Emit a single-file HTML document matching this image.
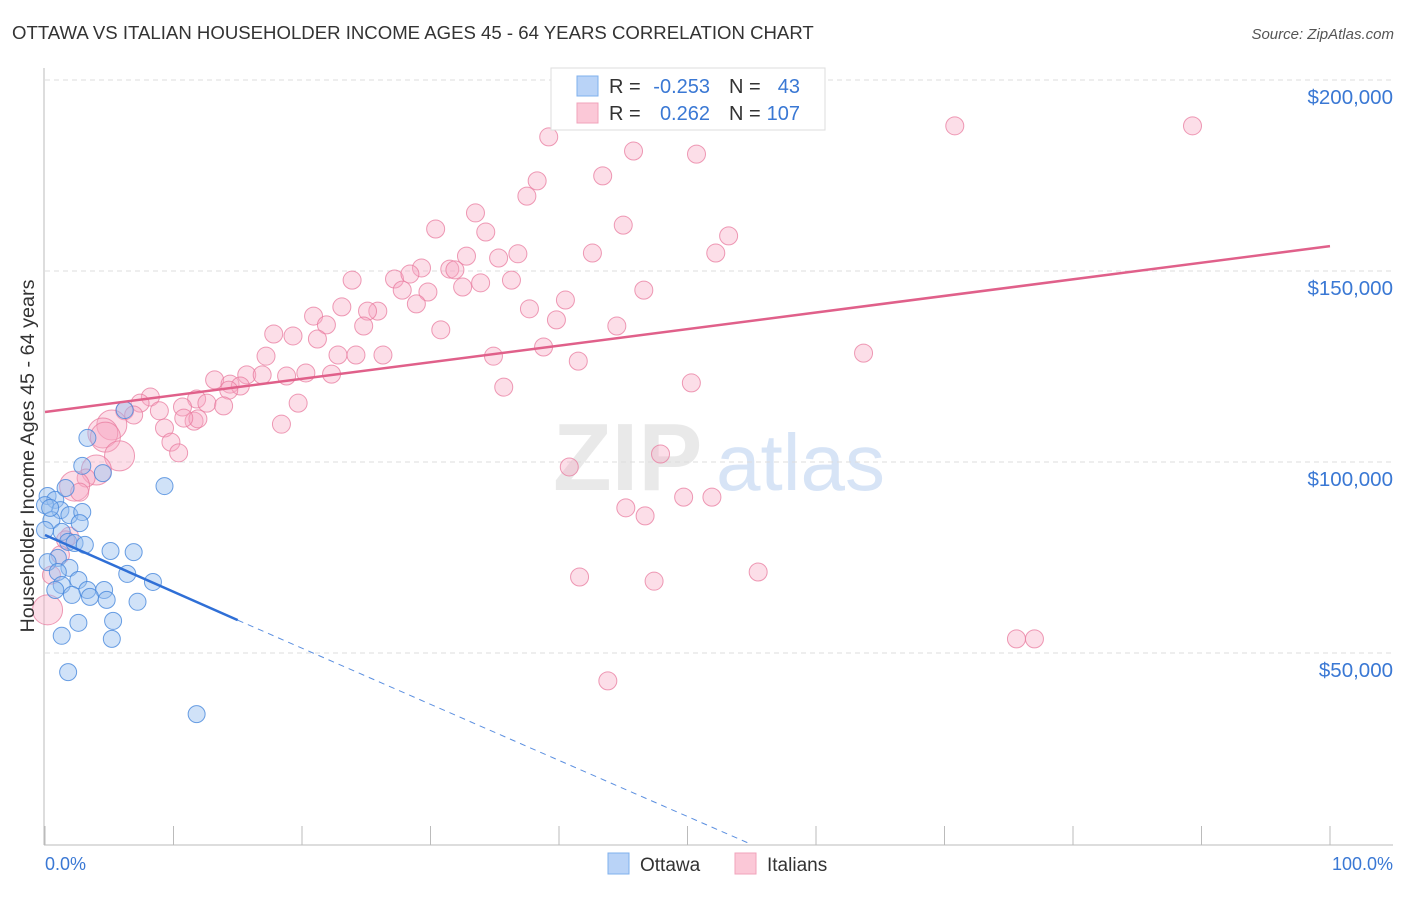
<!DOCTYPE html>
<html><head><meta charset="utf-8"><style>
body{margin:0;background:#fff;font-family:"Liberation Sans",sans-serif;}
svg text{font-family:"Liberation Sans",sans-serif;}
</style></head><body>
<svg id="chart" width="1406" height="892" xmlns="http://www.w3.org/2000/svg">
<text x="12" y="39" font-size="18.6" fill="#333">OTTAWA VS ITALIAN HOUSEHOLDER INCOME AGES 45 - 64 YEARS CORRELATION CHART</text>
<text x="1394" y="39" font-size="15" fill="#555" text-anchor="end" font-style="italic">Source: ZipAtlas.com</text>
<g opacity="0.55">
<text x="553" y="490" font-size="96" font-weight="bold" fill="#d8d8d8" font-family="Liberation Serif">ZIP</text>
<text x="716" y="490" font-size="80" fill="#b8cff0">atlas</text>
</g>
<g id="grid"></g><g id="axes"></g><g id="pts"></g><g id="lines"></g>
<text transform="translate(34,456) rotate(-90)" font-size="19.8" fill="#333" text-anchor="middle">Householder Income Ages 45 - 64 years</text>
<g>
<rect x="551" y="68" width="274" height="62" fill="#fff" stroke="#ddd"/>
<rect x="577" y="76" width="21" height="20" fill="#b9d3f7" stroke="#7fb0ee"/>
<rect x="577" y="103" width="21" height="20" fill="#fbc8d7" stroke="#f0a3bb"/>
<text x="609" y="93" font-size="20" fill="#333">R =</text><text x="710" y="93" font-size="20" fill="#3a78d4" text-anchor="end">-0.253</text>
<text x="729" y="93" font-size="20" fill="#333">N =</text><text x="800" y="93" font-size="20" fill="#3a78d4" text-anchor="end">43</text>
<text x="609" y="120" font-size="20" fill="#333">R =</text><text x="710" y="120" font-size="20" fill="#3a78d4" text-anchor="end">0.262</text>
<text x="729" y="120" font-size="20" fill="#333">N =</text><text x="800" y="120" font-size="20" fill="#3a78d4" text-anchor="end">107</text>
</g>
<g>
<rect x="608" y="853" width="21" height="21" fill="#b9d3f7" stroke="#7fb0ee"/>
<text x="640" y="871" font-size="19" fill="#333">Ottawa</text>
<rect x="735" y="853" width="21" height="21" fill="#fbc8d7" stroke="#f0a3bb"/>
<text x="767" y="871" font-size="19" fill="#333">Italians</text>
</g>
</svg>
<script>
const yTicks=[50,100,150,200];
const yTickLabels=["$50,000","$100,000","$150,000","$200,000"];
const xTickCount=10;
const ottawaX=[3.3,2.9,4.5,9.3,0.2,0.8,0,1.2,1.9,2.9,0.5,2.7,1.3,1.8,2.3,5.1,6.9,1.0,0.2,1.9,1.0,6.4,8.4,2.6,1.3,3.3,4.6,2.1,3.5,4.8,7.2,5.3,2.6,1.3,5.2,1.8,11.8,6.2,0.4,0,1.6,0.8,3.1];
const ottawaY=[106.3,99.0,97.1,93.7,91.1,90.1,88.7,87.4,86.1,86.9,84.8,84.0,81.7,79.1,78.8,76.7,76.4,74.9,73.8,72.3,71.2,70.7,68.6,69.1,67.8,66.5,66.5,65.2,64.7,63.9,63.4,58.4,57.9,54.5,53.7,45.0,34.0,113.6,88.0,82.2,93.2,66.5,78.3];
const italX=[39.2,70.8,89.3,45.8,50.7,43.4,38.3,37.5,33.5,45.0,30.4,34.3,53.2,32.8,36.8,42.6,35.3,52.2,23.9,29.3,27.2,28.4,31.5,31.9,27.8,29.8,32.5,33.9,36.3,46.6,40.5,20.9,23.1,25.9,25.1,28.9,37.7,39.8,44.5,24.8,17.8,19.3,21.9,21.2,30.8,17.2,22.8,24.2,26.3,38.8,34.9,41.5,63.7,15.7,16.9,20.3,22.3,13.2,14.4,15.2,18.8,14.3,35.7,50.3,11.8,12.6,13.9,10.7,19.7,8.2,7.4,6.2,8.9,6.9,11.6,18.4,9.3,11.9,10.8,5.2,4.5,4.7,9.8,5.8,10.4,47.9,40.8,4.0,3.2,2.3,2.7,49.7,51.9,45.2,46.7,1.9,1.6,41.6,47.4,55.5,75.6,77.0,43.8,0.2,1.2,0.5];
const italY=[185.1,188.0,188.0,181.4,180.6,174.9,173.6,169.6,165.2,162.0,161.0,160.2,159.2,153.9,154.5,154.7,153.4,154.7,147.6,150.8,147.9,149.2,150.5,150.3,145.0,144.5,145.8,146.9,147.6,145.0,142.4,138.2,140.6,139.5,139.5,141.4,140.1,137.2,135.6,135.6,133.5,133.0,135.9,132.2,134.6,127.7,128.0,128.0,128.0,130.1,127.7,126.4,128.5,122.8,122.8,123.3,123.0,121.5,120.4,119.9,122.5,118.8,119.6,120.7,116.5,115.4,114.7,114.4,115.4,117.0,115.4,113.4,113.4,112.3,110.7,109.9,108.9,111.3,111.5,109.7,107.6,106.5,105.2,101.6,102.4,102.1,98.7,97.9,95.8,93.7,92.1,90.8,90.8,88.0,85.9,80.6,79.6,69.9,68.8,71.2,53.7,53.7,42.7,61.3,75.7,70.4];
const italLarge=[83,87,89,81,103,80,79];
const ottawaTrend=[80.9,58.6,0];
const ottawaTrendX=[0,15,54.9];
const italTrend=[113.1,156.5];
const NS="http://www.w3.org/2000/svg";
const X0=45,X1=1330,Y0=844,PPK=3.82;
const sx=v=>X0+(X1-X0)*v/100, sy=v=>Y0-v*PPK;
function mk(tag,attrs,parent){const e=document.createElementNS(NS,tag);for(const k in attrs)e.setAttribute(k,attrs[k]);document.getElementById(parent).appendChild(e);return e;}
yTicks.forEach((t,i)=>{
 const g=mk('line',{x1:45,x2:1393,y1:sy(t),y2:sy(t),stroke:'#ddd','stroke-dasharray':'5,4'},'grid');
 
 
 const tx=mk('text',{x:1393,y:sy(t)+24,'font-size':20.5,fill:'#3a78d4','text-anchor':'end'},'grid');
 tx.textContent=yTickLabels[i];
 
 
});
const ya=mk('line',{x1:44,x2:44,y1:68,y2:845,stroke:'#bbb'},'axes');


const xa=mk('line',{x1:44,x2:1393,y1:845,y2:845,stroke:'#bbb'},'axes');


for(let i=0;i<=xTickCount;i++){
 const t=mk('line',{x1:sx(i*100/xTickCount),x2:sx(i*100/xTickCount),y1:826,y2:845,stroke:'#bbb'},'axes');
 
 
}
const xl0=mk('text',{x:45,y:870,'font-size':18,fill:'#3a78d4'},'axes');xl0.textContent='0.0%';


const xl1=mk('text',{x:1393,y:870,'font-size':18,fill:'#3a78d4','text-anchor':'end'},'axes');xl1.textContent='100.0%';


italX.forEach((x,i)=>{
 const r=italLarge.includes(i)?15:9;
 const c=mk('circle',{cx:sx(x),cy:sy(italY[i]),r:r,fill:'rgba(246,168,194,0.38)',stroke:'rgba(232,122,158,0.75)','stroke-width':1},'pts');
 
 
});
ottawaX.forEach((x,i)=>{
 const c=mk('circle',{cx:sx(x),cy:sy(ottawaY[i]),r:8.5,fill:'rgba(150,190,240,0.45)',stroke:'rgba(70,135,220,0.8)','stroke-width':1},'pts');
 
 
});
const pl=mk('line',{x1:sx(0),y1:sy(italTrend[0]),x2:sx(100),y2:sy(italTrend[1]),stroke:'#e0608a','stroke-width':2.5},'lines');


const bl=mk('line',{x1:sx(ottawaTrendX[0]),y1:sy(ottawaTrend[0]),x2:sx(ottawaTrendX[1]),y2:sy(ottawaTrend[1]),stroke:'#2f6fd6','stroke-width':2.5},'lines');


const bd=mk('line',{x1:sx(ottawaTrendX[1]),y1:sy(ottawaTrend[1]),x2:sx(ottawaTrendX[2]),y2:sy(ottawaTrend[2]),stroke:'#5b8fe0','stroke-width':1,'stroke-dasharray':'6,5'},'lines');


</script>
</body></html>
